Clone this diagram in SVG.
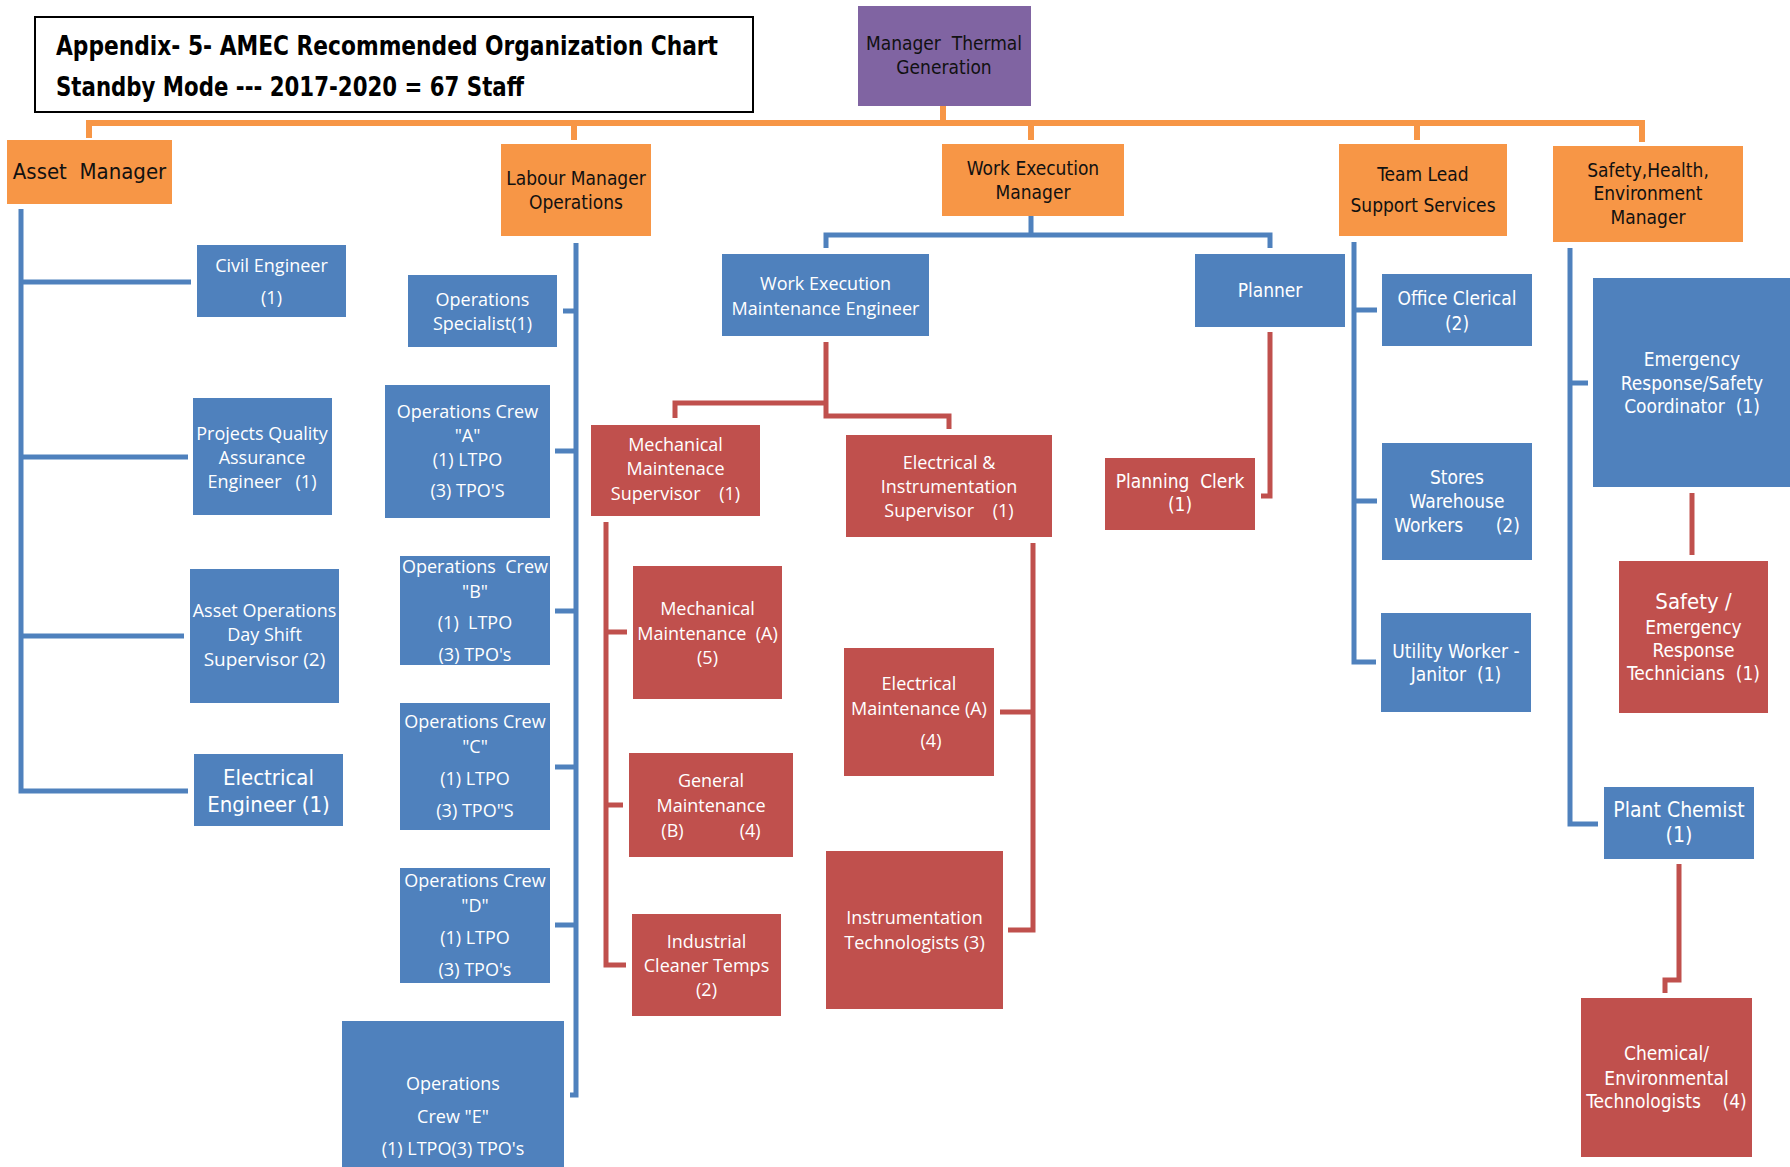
<svg xmlns="http://www.w3.org/2000/svg" width="1790" height="1167" viewBox="0 0 1790 1167">
<style>
text{white-space:pre;text-anchor:middle;dominant-baseline:central}
.seg{font-family:"Open Sans","Noto Sans",sans-serif;font-size:18px;fill:#fff}
.cal{font-family:"Liberation Sans Narrow","DejaVu Sans Condensed","Liberation Sans",sans-serif;font-size:19px;fill:#fff}
.dk{fill:#111}
.blue{fill:#4F81BD}
.red{fill:#C0504D}
.org{fill:#F79646}
.pur{fill:#8064A2}
.cb{fill:none;stroke:#4F81BD;stroke-width:5}
.cr{fill:none;stroke:#C0504D;stroke-width:5}
.co{fill:none;stroke:#F79646;stroke-width:6}
.title{font-family:"Liberation Sans Narrow","DejaVu Sans Condensed","Liberation Sans",sans-serif;font-weight:bold;font-size:26px;fill:#000;text-anchor:start}
</style>
<rect width="1790" height="1167" fill="#fff"/>
<g id="connectors">
<path class="co" d="M89,138 V123 H1642 V142 M574,123 V140 M943,106 V123 M1031,123 V140 M1417,123 V140"/>
<path class="cb" d="M21,209 V791 H188 M21,282 H191 M21,457 H188 M21,636 H184"/>
<path class="cb" d="M576,243 V1095 H570 M563,311 H576 M555,451 H576 M555,611 H576 M555,767 H576 M555,925 H576"/>
<path class="cb" d="M1031,216 V235 M826,248 V235 H1270 V248"/>
<path class="cb" d="M1354,242 V662 H1376 M1354,310 H1377 M1354,501 H1377"/>
<path class="cb" d="M1570,248 V824 H1598 M1570,383 H1588"/>
<path class="cr" d="M826,342 V403 H675 V418 M826,403 V416 H949 V429"/>
<path class="cr" d="M606,522 V965 H626 M606,632 H627 M606,805 H623"/>
<path class="cr" d="M1033,543 V930 H1008 M1000,712 H1033"/>
<path class="cr" d="M1270,332 V496 H1261"/>
<path class="cr" d="M1692,493 V555"/>
<path class="cr" d="M1679,864 V980 H1665 V993"/>
</g>
<g id="title">
<rect x="35" y="17" width="718" height="95" fill="#fff" stroke="#000" stroke-width="2"/>
<text class="title" x="56" y="46" textLength="662" lengthAdjust="spacingAndGlyphs">Appendix- 5- AMEC Recommended Organization Chart</text>
<text class="title" x="56" y="87" textLength="468" lengthAdjust="spacingAndGlyphs">Standby Mode --- 2017-2020 = 67 Staff</text>
</g>
<g id="manager-thermal"><rect class="pur" x="858" y="6" width="173" height="100"/><text class="cal dk" x="944" y="43">Manager  Thermal</text><text class="cal dk" x="944" y="67">Generation</text></g>
<g id="asset-manager"><rect class="org" x="7" y="140" width="165" height="64"/><text class="cal dk" x="89.5" y="171" style="font-size:22px">Asset  Manager</text></g>
<g id="labour-manager"><rect class="org" x="501" y="144" width="150" height="92"/><text class="cal dk" x="576" y="178">Labour Manager</text><text class="cal dk" x="576" y="202">Operations</text></g>
<g id="work-exec-manager"><rect class="org" x="942" y="144" width="182" height="72"/><text class="cal dk" x="1033" y="168">Work Execution</text><text class="cal dk" x="1033" y="192">Manager</text></g>
<g id="team-lead"><rect class="org" x="1339" y="144" width="168" height="92"/><text class="cal dk" x="1423" y="174">Team Lead</text><text class="cal dk" x="1423" y="205">Support Services</text></g>
<g id="she-manager"><rect class="org" x="1553" y="146" width="190" height="96"/><text class="cal dk" x="1648" y="170">Safety,Health,</text><text class="cal dk" x="1648" y="193">Environment</text><text class="cal dk" x="1648" y="217">Manager</text></g>
<g id="civil-engineer"><rect class="blue" x="197" y="245" width="149" height="72"/><text class="seg" x="271.5" y="265">Civil Engineer</text><text class="seg" x="271.5" y="297">(1)</text></g>
<g id="pqa-engineer"><rect class="blue" x="193" y="398" width="139" height="117"/><text class="seg" x="262" y="433">Projects Quality</text><text class="seg" x="262" y="457">Assurance</text><text class="seg" x="262" y="481">Engineer   (1)</text></g>
<g id="asset-ops-supervisor"><rect class="blue" x="190" y="569" width="149" height="134"/><text class="seg" x="264.5" y="610">Asset Operations</text><text class="seg" x="264.5" y="634">Day Shift</text><text class="seg" x="264.5" y="659" style="font-size:19px">Supervisor (2)</text></g>
<g id="electrical-engineer"><rect class="blue" x="194" y="754" width="149" height="72"/><text class="cal" x="268.5" y="777" style="font-size:22px">Electrical</text><text class="cal" x="268.5" y="804" style="font-size:22px">Engineer (1)</text></g>
<g id="ops-specialist"><rect class="blue" x="408" y="275" width="149" height="72"/><text class="seg" x="482.5" y="299">Operations</text><text class="seg" x="482.5" y="323">Specialist(1)</text></g>
<g id="crew-a"><rect class="blue" x="385" y="385" width="165" height="133"/><text class="seg" x="467.5" y="411">Operations Crew</text><text class="seg" x="467.5" y="435">"A"</text><text class="seg" x="467.5" y="459">(1) LTPO</text><text class="seg" x="467.5" y="490">(3) TPO'S</text></g>
<g id="crew-b"><rect class="blue" x="400" y="556" width="150" height="109"/><text class="seg" x="475" y="566">Operations  Crew</text><text class="seg" x="475" y="591">"B"</text><text class="seg" x="475" y="622">(1)  LTPO</text><text class="seg" x="475" y="654">(3) TPO's</text></g>
<g id="crew-c"><rect class="blue" x="400" y="703" width="150" height="127"/><text class="seg" x="475" y="721">Operations Crew</text><text class="seg" x="475" y="746">"C"</text><text class="seg" x="475" y="778">(1) LTPO</text><text class="seg" x="475" y="810">(3) TPO"S</text></g>
<g id="crew-d"><rect class="blue" x="400" y="868" width="150" height="115"/><text class="seg" x="475" y="880">Operations Crew</text><text class="seg" x="475" y="905">"D"</text><text class="seg" x="475" y="937">(1) LTPO</text><text class="seg" x="475" y="969">(3) TPO's</text></g>
<g id="crew-e"><rect class="blue" x="342" y="1021" width="222" height="150"/><text class="seg" x="453" y="1083">Operations</text><text class="seg" x="453" y="1116">Crew "E"</text><text class="seg" x="453" y="1148">(1) LTPO(3) TPO's</text></g>
<g id="wem-engineer"><rect class="blue" x="722" y="254" width="207" height="82"/><text class="seg" x="825.5" y="283">Work Execution</text><text class="seg" x="825.5" y="308">Maintenance Engineer</text></g>
<g id="planner"><rect class="blue" x="1195" y="254" width="150" height="73"/><text class="cal" x="1270" y="290">Planner</text></g>
<g id="office-clerical"><rect class="blue" x="1382" y="274" width="150" height="72"/><text class="cal" x="1457" y="298">Office Clerical</text><text class="cal" x="1457" y="323">(2)</text></g>
<g id="stores"><rect class="blue" x="1382" y="443" width="150" height="117"/><text class="cal" x="1457" y="477">Stores</text><text class="cal" x="1457" y="501">Warehouse</text><text class="cal" x="1457" y="525">Workers      (2)</text></g>
<g id="utility"><rect class="blue" x="1381" y="613" width="150" height="99"/><text class="cal" x="1456" y="651">Utility Worker -</text><text class="cal" x="1456" y="674">Janitor  (1)</text></g>
<g id="emergency-coordinator"><rect class="blue" x="1593" y="278" width="197" height="209"/><text class="cal" x="1692" y="359">Emergency</text><text class="cal" x="1692" y="383">Response/Safety</text><text class="cal" x="1692" y="406">Coordinator  (1)</text></g>
<g id="plant-chemist"><rect class="blue" x="1604" y="787" width="150" height="72"/><text class="cal" x="1679" y="810" style="font-size:21px">Plant Chemist</text><text class="cal" x="1679" y="835" style="font-size:21px">(1)</text></g>
<g id="mech-supervisor"><rect class="red" x="591" y="425" width="169" height="91"/><text class="seg" x="675.5" y="444">Mechanical</text><text class="seg" x="675.5" y="468">Maintenace</text><text class="seg" x="675.5" y="493">Supervisor    (1)</text></g>
<g id="ei-supervisor"><rect class="red" x="846" y="435" width="206" height="102"/><text class="seg" x="949" y="462">Electrical &amp;</text><text class="seg" x="949" y="486">Instrumentation</text><text class="seg" x="949" y="510">Supervisor    (1)</text></g>
<g id="mech-maint-a"><rect class="red" x="633" y="566" width="149" height="133"/><text class="seg" x="707.5" y="608">Mechanical</text><text class="seg" x="707.5" y="633">Maintenance  (A)</text><text class="seg" x="707.5" y="657">(5)</text></g>
<g id="general-maint-b"><rect class="red" x="629" y="753" width="164" height="104"/><text class="seg" x="711" y="780">General</text><text class="seg" x="711" y="805">Maintenance</text><text class="seg" x="711" y="830">(B)            (4)</text></g>
<g id="industrial-cleaner"><rect class="red" x="632" y="914" width="149" height="102"/><text class="seg" x="706.5" y="941">Industrial</text><text class="seg" x="706.5" y="965">Cleaner Temps</text><text class="seg" x="706.5" y="989">(2)</text></g>
<g id="elec-maint-a"><rect class="red" x="844" y="648" width="150" height="128"/><text class="seg" x="919" y="683">Electrical</text><text class="seg" x="919" y="708">Maintenance (A)</text><text class="seg" x="931" y="740">(4)</text></g>
<g id="instr-tech"><rect class="red" x="826" y="851" width="177" height="158"/><text class="seg" x="914.5" y="917">Instrumentation</text><text class="seg" x="914.5" y="942">Technologists (3)</text></g>
<g id="planning-clerk"><rect class="red" x="1105" y="458" width="150" height="72"/><text class="cal" x="1180" y="481">Planning  Clerk</text><text class="cal" x="1180" y="504">(1)</text></g>
<g id="safety-technicians"><rect class="red" x="1619" y="561" width="149" height="152"/><text class="cal" x="1693.5" y="601" style="font-size:22px">Safety /</text><text class="cal" x="1693.5" y="627">Emergency</text><text class="cal" x="1693.5" y="650">Response</text><text class="cal" x="1693.5" y="673">Technicians  (1)</text></g>
<g id="chem-tech"><rect class="red" x="1581" y="998" width="171" height="159"/><text class="cal" x="1666.5" y="1053">Chemical/</text><text class="cal" x="1666.5" y="1078">Environmental</text><text class="cal" x="1666.5" y="1101">Technologists    (4)</text></g>
</svg>
